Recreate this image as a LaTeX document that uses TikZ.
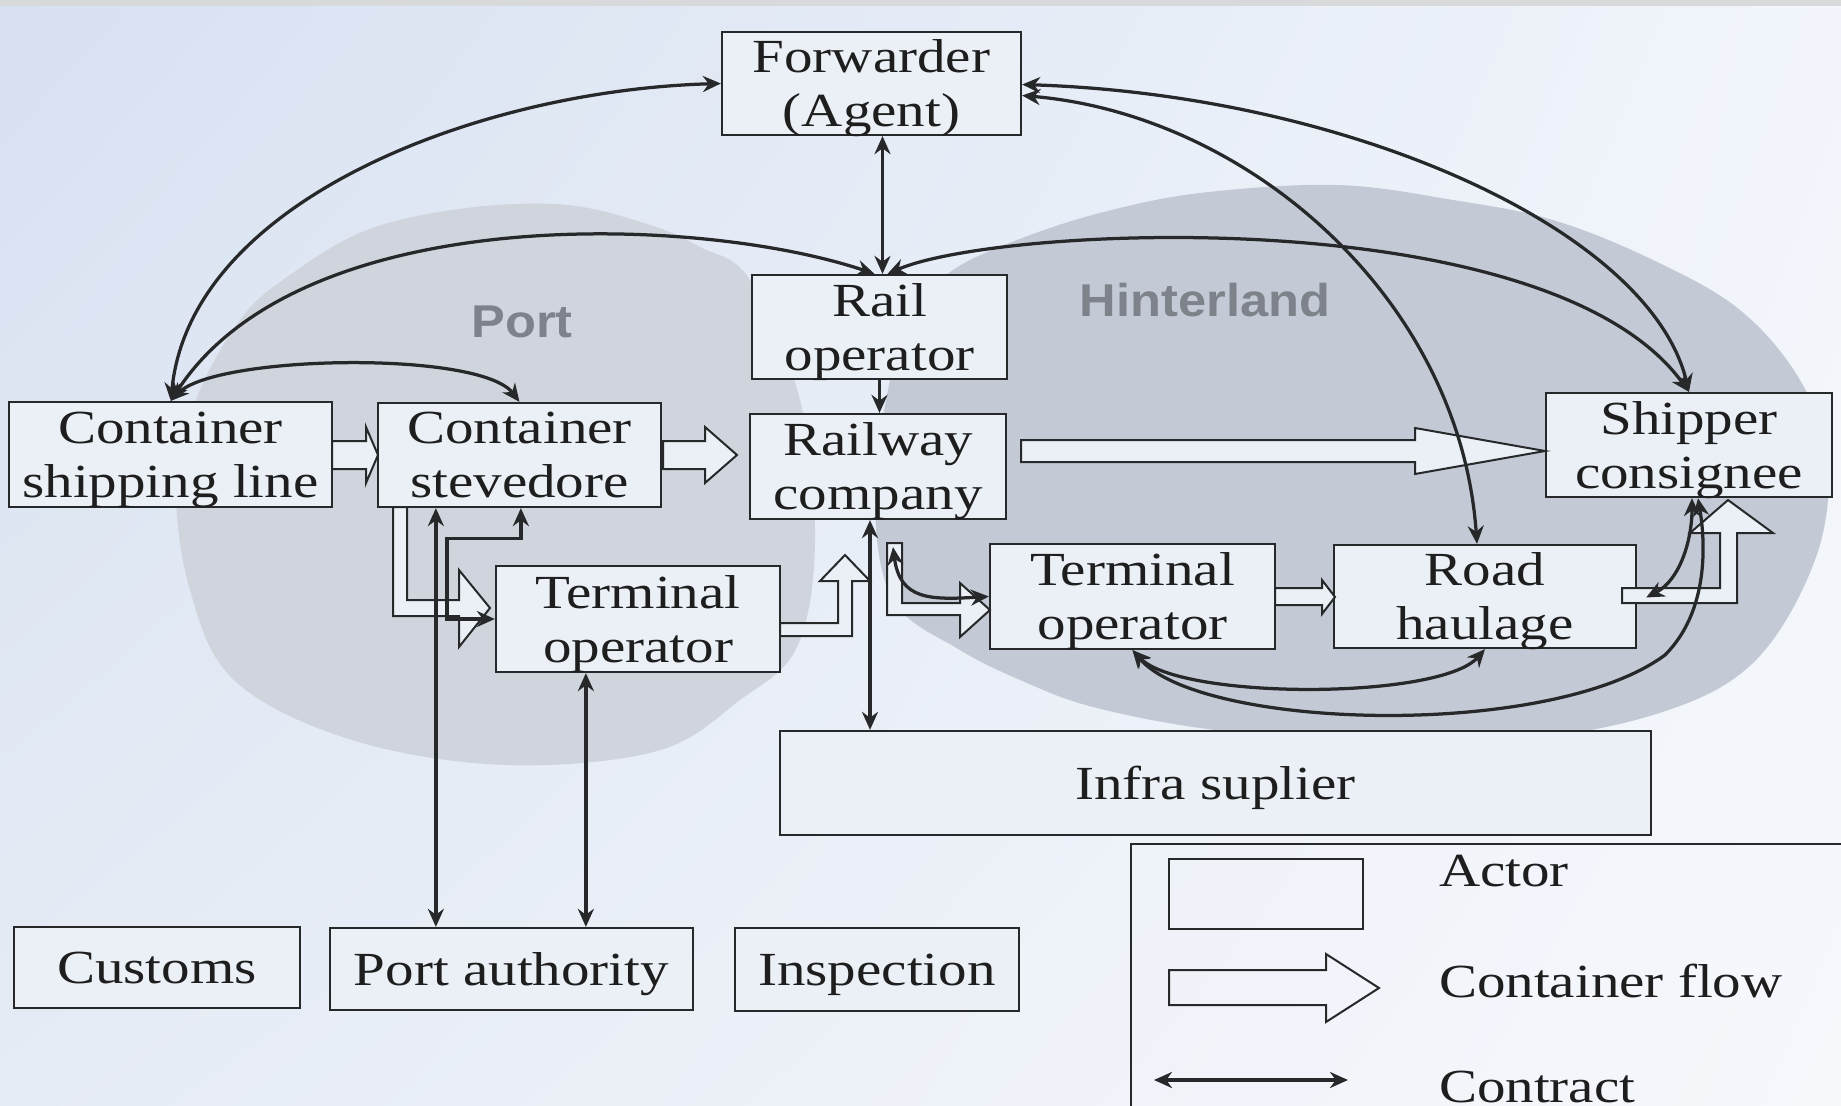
\documentclass[tikz,border=0pt]{standalone}
\usepackage{fontspec}
\setmainfont[FakeStretch=1.2]{Liberation Serif}
\newfontfamily\regionfont[FakeStretch=1.1]{Liberation Sans}
\usetikzlibrary{arrows.meta,calc,shadings}
\definecolor{bgul}{RGB}{215,225,241}
\definecolor{bgur}{RGB}{241,245,251}
\definecolor{bgll}{RGB}{230,236,245}
\definecolor{bglr}{RGB}{246,248,252}
\definecolor{topband}{RGB}{216,217,219}
\definecolor{portc}{RGB}{208,212,220}
\definecolor{hintc}{RGB}{196,202,213}
\definecolor{boxfill}{RGB}{235,240,247}
\definecolor{linec}{RGB}{38,40,42}
\definecolor{textc}{RGB}{30,30,30}
\definecolor{regionc}{RGB}{126,130,138}
\begin{document}
\begin{tikzpicture}[x=0.2pt,y=-0.2pt,
  >={Stealth[length=3.6pt,width=3.2pt]},
  actor/.style={draw=linec, fill=boxfill, line width=0.45pt, inner sep=0pt, align=center, text=textc, text depth=0pt, font={\fontsize{9.5}{10.8}\selectfont}},
  flow/.style={draw=linec, fill=boxfill, line width=0.4pt, line join=miter},
  ctr/.style={draw=linec, line width=0.65pt},
  region/.style={font={\regionfont\bfseries\fontsize{9.2}{11}\selectfont}, text=regionc, inner sep=0pt},
  legtext/.style={anchor=base west, inner sep=0pt, text=textc, font={\fontsize{9.5}{10.8}\selectfont}}]
\useasboundingbox (0,0) rectangle (1841,1106);
% background
\shade[upper left=bgul, upper right=bgur, lower left=bgll, lower right=bglr] (0,0) rectangle (1841,1106);
\fill[topband] (0,0) rectangle (1841,6);
% regions
\fill[portc] plot[smooth cycle, tension=0.6] coordinates {(176,480) (197,397) (240,320) (287,277) (367,230) (467,208) (567,205) (650,225) (700,247) (750,280) (800,400) (815,540) (797,647) (740,700) (657,751) (505,765) (352,740) (235,681) (190,590)};
\fill[hintc] plot[smooth cycle, tension=0.6] coordinates {(953,270) (1017,240) (1100,213) (1200,193) (1337,185) (1453,200) (1553,220) (1653,260) (1740,310) (1800,380) (1828,460) (1815,560) (1753,663) (1653,715) (1500,742) (1330,740) (1200,728) (1093,707) (1027,683) (960,650) (893,600) (875,500) (890,380) (915,310)};
\node[region] (portlbl) at (522,322) {Port};
\node[region] (hintlbl) at (1205,300) {Hinterland};
% actors
\node[actor, minimum width=59.8pt, minimum height=20.6pt] (fwd) at (871.5,83.5) {Forwarder\\(Agent)};
\node[actor, minimum width=51pt, minimum height=20.8pt] (railop) at (879.5,327) {Rail\\operator};
\node[actor, minimum width=64.6pt, minimum height=21pt] (csl) at (170.5,454.5) {Container\\shipping line};
\node[actor, minimum width=56.6pt, minimum height=20.8pt] (stev) at (519.5,455) {Container\\stevedore};
\node[actor, minimum width=51.2pt, minimum height=21pt] (rwc) at (878,466.5) {Railway\\company};
\node[actor, minimum width=57.2pt, minimum height=20.8pt] (ship) at (1689,445) {Shipper\\consignee};
\node[actor, minimum width=56.8pt, minimum height=21.2pt] (pto) at (638,619) {Terminal\\operator};
\node[actor, minimum width=57pt, minimum height=21pt] (hto) at (1132.5,596.5) {Terminal\\operator};
\node[actor, minimum width=60.4pt, minimum height=20.6pt] (road) at (1485,596.5) {Road\\haulage};
\node[actor, minimum width=174.2pt, minimum height=20.8pt] (infra) at (1215.5,783) {Infra suplier};
\node[actor, minimum width=57.2pt, minimum height=16.2pt] (customs) at (157,967.5) {Customs};
\node[actor, minimum width=72.6pt, minimum height=16.4pt] (pa) at (511.5,969) {Port authority};
\node[actor, minimum width=56.8pt, minimum height=16.6pt] (insp) at (877,969.5) {Inspection};
% container flows
\draw[flow] (332,441) -- (366,441) -- (366,427) -- (378,455) -- (366,483) -- (366,469) -- (332,469) -- cycle;
\draw[flow] (663,441) -- (705,441) -- (705,427) -- (737,455) -- (705,483) -- (705,469) -- (663,469) -- cycle;
\draw[flow] (1021,440) -- (1415,440) -- (1415,428) -- (1545,451) -- (1415,474) -- (1415,462) -- (1021,462) -- cycle;
\draw[flow] (393,507) -- (393,616) -- (459,616) -- (459,647) -- (490,608) -- (459,570) -- (459,600) -- (407,600) -- (407,507) -- cycle;
\draw[flow] (780,623) -- (838,623) -- (838,581) -- (820,581) -- (845,555) -- (870,581) -- (852,581) -- (852,636) -- (780,636) -- cycle;
\draw[flow] (887,543) -- (887,615) -- (960,615) -- (960,637) -- (990,610) -- (960,583) -- (960,603) -- (902,603) -- (902,543) -- cycle;
\draw[flow] (1275,588) -- (1322,588) -- (1322,580) -- (1335,597) -- (1322,614) -- (1322,605) -- (1275,605) -- cycle;
\draw[flow] (1622,588) -- (1720,588) -- (1720,533) -- (1690,533) -- (1728,500) -- (1773,533) -- (1737,533) -- (1737,603) -- (1622,603) -- cycle;
% contracts
\coordinate (cslT) at ($(csl.north west)+(163,0)$);
\draw[ctr,<->] (fwd.west) .. controls (480,90) and (190,200) .. (cslT);
\draw[ctr,<->] ($(railop.north)+(-5,0)$) .. controls (700,215) and (300,200) .. (cslT);
\draw[ctr,<->] (cslT) .. controls (215,355) and (480,350) .. (stev.north);
\draw[ctr,<->] ($(fwd.east)+(0,1)$) .. controls (1350,95) and (1650,230) .. (ship.north);
\draw[ctr,<->] ($(fwd.east)+(0,12)$) .. controls (1250,115) and (1460,300) .. ($(road.north)+(-8,0)$);
\draw[ctr,<->] ($(railop.north)+(8,0)$) .. controls (1000,225) and (1550,200) .. (ship.north);
\draw[ctr,<->] ($(fwd.south)+(11,0)$) -- ($(railop.north)+(3,0)$);
\draw[ctr,->] (railop.south) -- (railop.south |- rwc.north);
\coordinate (rs) at ($(rwc.south)+(-8,0)$);
\draw[ctr,<->] (rs) -- (rs |- infra.north);
\coordinate (sp) at ($(stev.south west)+(59,0)$);
\draw[ctr,<->] (sp) -- (sp |- pa.north);
\coordinate (tp) at ($(pto.south west)+(91,0)$);
\draw[ctr,<->] (tp) -- (tp |- pa.north);
\coordinate (sb) at ($(stev.south west)+(144,0)$);
\draw[ctr,<->] (sb) -- ++(0,30) -- ++(-74,0) |- (pto.west);
\coordinate (rc) at ($(rwc.south)+(15,27)$);
\draw[ctr,<->] (rc) .. controls (900,600) and (930,600) .. (hto.west);
\draw[ctr,<->] (hto.south) .. controls (1180,700) and (1440,700) .. (road.south);
\draw[ctr,<->] (hto.south) .. controls (1200,730) and (1550,740) .. (1665,655) .. controls (1710,610) and (1705,540) .. ($(ship.south)+(9,0)$);
\draw[ctr,<->] ($(road.east)+(9,1)$) .. controls (1680,580) and (1692,540) .. ($(ship.south)+(3,0)$);
% legend
\draw[draw=linec, line width=0.45pt] (1131,1120) -- (1131,844) -- (1850,844);
\node[draw=linec, line width=0.45pt, minimum width=38.8pt, minimum height=14pt, inner sep=0pt] (legactor) at (1266,894) {};
\draw[flow, fill=none] (1169,970) -- (1326,970) -- (1326,954) -- (1379,988) -- (1326,1022) -- (1326,1005) -- (1169,1005) -- cycle;
\coordinate (lc1) at (1154,1080);
\coordinate (lc2) at (1348,1080);
\draw[ctr,<->] (lc1) -- (lc2);
\node[legtext] (tactor) at (1438,886) {Actor};
\node[legtext] (tflow) at (1438,997) {Container flow};
\node[legtext] (tcontract) at (1438,1102) {Contract};
\end{tikzpicture}
\end{document}
